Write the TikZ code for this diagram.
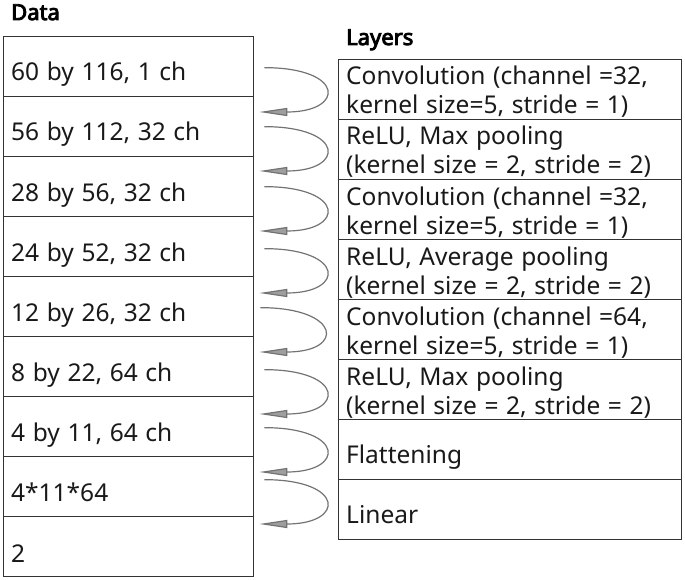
\documentclass[tikz,border=0pt]{standalone}
\usepackage{fontspec}
\setmainfont{Noto Sans}[WordSpace=1.2]
\newfontfamily\titlefont{Noto Sans}[FakeBold=4]
\usetikzlibrary{arrows.meta}
\begin{document}
\begin{tikzpicture}[x=1pt,y=-1pt,
  rowbox/.style={draw=black!80, line width=1.3pt, minimum width=250pt, minimum height=60pt, inner sep=0pt, anchor=north west},
  laybox/.style={draw=black!80, line width=1.3pt, minimum width=343pt, minimum height=60pt, inner sep=0pt, anchor=north west},
  celltext/.style={anchor=base west, inner sep=0pt, font=\fontsize{24.5}{29}\selectfont, text=black!90},
  titletext/.style={anchor=base west, inner sep=0pt, font=\titlefont\fontsize{22}{25}\selectfont},
  flow/.style={draw=black!55, line width=1.2pt, -{Triangle[length=28pt,width=8pt,fill=black!38]}}
]
\useasboundingbox (0,0) rectangle (685,580);

% titles
\node[titletext] (tdata) at (11,20) {Data};
\node[titletext] (tlay) at (346,45) {Layers};

% data rows
\foreach \i in {1,...,9} {
  \node[rowbox] (d\i) at (3,{36+60*(\i-1)}) {};
}
\node[celltext] (dt1) at ([shift={(8pt,-45pt)}]d1.north west) {60 by 116, 1 ch};
\node[celltext] (dt2) at ([shift={(8pt,-45pt)}]d2.north west) {56 by 112, 32 ch};
\node[celltext] (dt3) at ([shift={(8pt,-45pt)}]d3.north west) {28 by 56, 32 ch};
\node[celltext] (dt4) at ([shift={(8pt,-45pt)}]d4.north west) {24 by 52, 32 ch};
\node[celltext] (dt5) at ([shift={(8pt,-45pt)}]d5.north west) {12 by 26, 32 ch};
\node[celltext] (dt6) at ([shift={(8pt,-45pt)}]d6.north west) {8 by 22, 64 ch};
\node[celltext] (dt7) at ([shift={(8pt,-45pt)}]d7.north west) {4 by 11, 64 ch};
\node[celltext] (dt8) at ([shift={(8pt,-45pt)}]d8.north west) {4*11*64};
\node[celltext] (dt9) at ([shift={(8pt,-46pt)}]d9.north west) {2};

% layer rows
\foreach \i in {1,...,8} {
  \node[laybox] (l\i) at (338,{59+60*(\i-1)}) {};
}
\node[celltext] (lt1) at ([shift={(8pt,-26pt)}]l1.north west) {\begin{tabular}[t]{@{}l@{}}Convolution (channel =32,\\kernel size=5, stride = 1)\end{tabular}};
\node[celltext] (lt2) at ([shift={(8pt,-26pt)}]l2.north west) {\begin{tabular}[t]{@{}l@{}}ReLU, Max pooling\\(kernel size = 2, stride = 2)\end{tabular}};
\node[celltext] (lt3) at ([shift={(8pt,-26pt)}]l3.north west) {\begin{tabular}[t]{@{}l@{}}Convolution (channel =32,\\kernel size=5, stride = 1)\end{tabular}};
\node[celltext] (lt4) at ([shift={(8pt,-26pt)}]l4.north west) {\begin{tabular}[t]{@{}l@{}}ReLU, Average pooling\\(kernel size = 2, stride = 2)\end{tabular}};
\node[celltext] (lt5) at ([shift={(8pt,-26pt)}]l5.north west) {\begin{tabular}[t]{@{}l@{}}Convolution (channel =64,\\kernel size=5, stride = 1)\end{tabular}};
\node[celltext] (lt6) at ([shift={(8pt,-26pt)}]l6.north west) {\begin{tabular}[t]{@{}l@{}}ReLU, Max pooling\\(kernel size = 2, stride = 2)\end{tabular}};
\node[celltext] (lt7) at ([shift={(8pt,-44pt)}]l7.north west) {Flattening};
\node[celltext] (lt8) at ([shift={(8pt,-44pt)}]l8.north west) {Linear};

% flow arrows between data rows
\foreach \a/\b/\sy/\ey/\sx in {1/2/1/16/10, 2/3/0/15/10, 3/4/0/15/10, 4/5/2/17/10, 5/6/1/16/6, 6/7/3/18/10, 7/8/1/16/10, 8/9/-7/8/10} {
  \draw[flow] ([xshift=\sx pt, yshift=-\sy pt]d\a.east)
    .. controls +(81,0) and +(86,0) ..
    ([xshift=5pt, yshift=-\ey pt]d\b.north east);
}
\end{tikzpicture}
\end{document}
